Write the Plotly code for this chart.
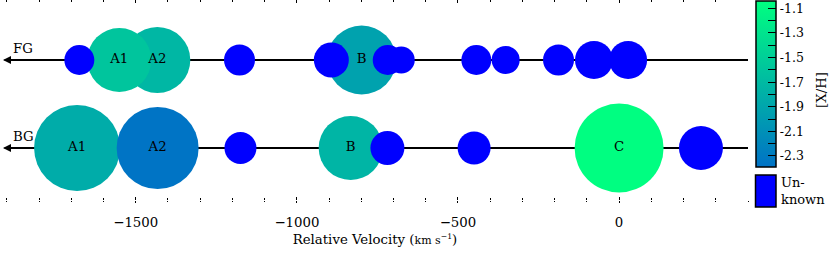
import plotly.graph_objects as go

# ---------------- data ----------------
# Foreground (FG) sightline components
fg_names = ["A1", "A2", "B"]
fg_vel = [-1551, -1433, -799]
fg_xh = [-1.60, -1.73, -1.93]
fg_size = [64, 66, 69]

fg_unk_vel = [-1675, -1178, -893, -718, -676, -443, -352, -188, -78, 28]
fg_unk_size = [30, 31, 35, 30, 27, 30, 28, 31, 38, 38]

# Background (BG) sightline components
bg_names = ["A1", "A2", "B", "C"]
bg_vel = [-1682, -1432, -833, 0]
bg_xh = [-1.83, -2.37, -1.75, -1.05]
bg_size = [86, 82, 64, 89]

bg_unk_vel = [-1175, -719, -450, 254]
bg_unk_size = [32, 34, 33, 44]

x_tickvals = [-1500, -1000, -500, 0]
x_ticktext = ["\u22121500", "\u22121000", "\u2212500", "0"]

cb_tickvals = [-2.3, -2.2, -2.1, -2.0, -1.9, -1.8, -1.7, -1.6, -1.5, -1.4, -1.3, -1.2, -1.1]
cb_ticktext = ["-2.3", "", "-2.1", "", "-1.9", "", "-1.7", "", "-1.5", "", "-1.3", "", "-1.1"]

XH_MIN, XH_MAX = -2.39, -1.04
VEL_MIN, VEL_MAX = -1915, 400

# ---------------- figure ----------------
W, H = 830, 254
ML, MR, MT, MB = 2, 82, 0, 54
PW = W - ML - MR
PH = H - MT - MB
FONT = "DejaVu Serif, serif"
FS = 13.3


def px_x(p):
    return (p - ML) / PW


def px_y(p):
    return 1 - (p - MT) / PH


fig = go.Figure()

colorscale = [[0, "rgb(0,114,198)"], [1, "rgb(0,255,128)"]]


def sorted_by_size(vel, size, *others):
    idx = sorted(range(len(vel)), key=lambda i: -size[i])
    out = [[vel[i] for i in idx], [size[i] for i in idx]]
    for o in others:
        out.append([o[i] for i in idx])
    return out


for name, yv, vel, xh, size, names, uvel, usize in [
    ("FG", 1, fg_vel, fg_xh, fg_size, fg_names, fg_unk_vel, fg_unk_size),
    ("BG", 0, bg_vel, bg_xh, bg_size, bg_names, bg_unk_vel, bg_unk_size),
]:
    # sightline
    fig.add_trace(go.Scatter(
        x=[VEL_MIN + 8, VEL_MAX], y=[yv, yv], mode="lines",
        line=dict(color="black", width=2), hoverinfo="skip", showlegend=False,
    ))
    v_s, s_s, x_s, n_s = sorted_by_size(vel, size, xh, names)
    fig.add_trace(go.Scatter(
        x=v_s, y=[yv] * len(v_s), mode="markers",
        marker=dict(size=s_s, color=x_s, coloraxis="coloraxis", opacity=1,
                    line=dict(width=0)),
        hoverinfo="skip", showlegend=False,
    ))
    uv_s, us_s = sorted_by_size(uvel, usize)
    fig.add_trace(go.Scatter(
        x=uv_s, y=[yv] * len(uv_s), mode="markers",
        marker=dict(size=us_s, color="#0000ff", opacity=1, line=dict(width=0)),
        hoverinfo="skip", showlegend=False,
    ))
    fig.add_trace(go.Scatter(
        x=vel, y=[yv] * len(vel), mode="text", text=names,
        textposition="middle center",
        textfont=dict(family=FONT, size=FS, color="black"),
        hoverinfo="skip", showlegend=False,
    ))
    # arrow head at left end
    fig.add_annotation(
        x=VEL_MIN + 3, y=yv, ax=VEL_MIN + 40, ay=yv, xref="x", yref="y",
        axref="x", ayref="y", text="", showarrow=True,
        arrowhead=2, arrowsize=0.8, arrowwidth=2, arrowcolor="black",
    )
    # row label
    fig.add_annotation(
        x=px_x(11), y=yv, xref="paper", yref="y", yshift=12,
        text=name, showarrow=False, xanchor="left", yanchor="middle",
        font=dict(family=FONT, size=FS, color="black"),
    )

# dummy traces for overlay axes
for xa in ["x2", "x3"]:
    fig.add_trace(go.Scatter(x=[0], y=[0], xaxis=xa, yaxis="y", mode="markers",
                             marker=dict(opacity=0), hoverinfo="skip", showlegend=False))

common_x = dict(range=[VEL_MIN, VEL_MAX], showgrid=False, zeroline=False, showline=False,
                tickvals=x_tickvals, tickwidth=1, tickcolor="black", fixedrange=True,
                automargin=False)

fig.update_layout(
    width=W, height=H,
    margin=dict(l=ML, r=MR, t=MT, b=MB, autoexpand=False),
    paper_bgcolor="white", plot_bgcolor="white",
    font=dict(family=FONT, size=FS, color="black"),
    xaxis=dict(**common_x, ticks="inside", ticklen=3, showticklabels=False,
               minor=dict(ticks="inside", ticklen=2, tick0=0, dtick=100,
                          tickwidth=1, tickcolor="black", showgrid=False)),
    xaxis2=dict(**common_x, overlaying="x", side="bottom", anchor="y",
                ticks="outside", ticklen=2, ticktext=x_ticktext, showticklabels=True,
                ticklabelstandoff=8,
                tickfont=dict(family=FONT, size=FS, color="black"),
                minor=dict(ticks="outside", ticklen=1, tick0=0, dtick=100,
                           tickwidth=1, tickcolor="black", showgrid=False),
                title=dict(text="Relative Velocity (<span style='font-size:11px'>km s<sup>\u22121</sup></span>)",
                           font=dict(family=FONT, size=FS, color="black"), standoff=5)),
    xaxis3=dict(**common_x, overlaying="x", side="top", anchor="y",
                ticks="inside", ticklen=3, showticklabels=False,
                minor=dict(ticks="inside", ticklen=2, tick0=0, dtick=100,
                           tickwidth=1, tickcolor="black", showgrid=False)),
    yaxis=dict(range=[-(PH - 148) / 88, 1 + 60 / 88], visible=False, fixedrange=True,
               automargin=False),
    coloraxis=dict(
        colorscale=colorscale, cmin=XH_MIN, cmax=XH_MAX,
        colorbar=dict(
            x=px_x(755.5), xanchor="left", xpad=0,
            y=px_y(1), yanchor="top", ypad=0,
            lenmode="pixels", len=166, thicknessmode="pixels", thickness=20,
            outlinewidth=1.5, outlinecolor="black",
            tickmode="array", tickvals=cb_tickvals, ticktext=cb_ticktext,
            ticks="inside", ticklen=8, tickwidth=1, tickcolor="black",
            tickfont=dict(family=FONT, size=12.5, color="black"),
        ),
    ),
    showlegend=False,
)

# "Unknown" key box
fig.add_shape(type="rect", xref="paper", yref="paper",
              x0=px_x(755.5), x1=px_x(776), y0=px_y(207), y1=px_y(175),
              fillcolor="#0000ff", line=dict(color="black", width=1.5))
fig.add_annotation(x=px_x(779), y=px_y(191), xref="paper", yref="paper",
                   text="Un-<br>known", showarrow=False, xanchor="left", yanchor="middle",
                   align="left", font=dict(family=FONT, size=13, color="black"))
# colorbar label
fig.add_annotation(x=px_x(822), y=px_y(90), xref="paper", yref="paper",
                   text="[X/H]", textangle=-90, showarrow=False,
                   xanchor="center", yanchor="middle",
                   font=dict(family=FONT, size=FS, color="black"))

fig.write_html("out.html", config={"displayModeBar": False},
               post_script="document.body.style.margin='0px';document.body.style.overflow='hidden';")
